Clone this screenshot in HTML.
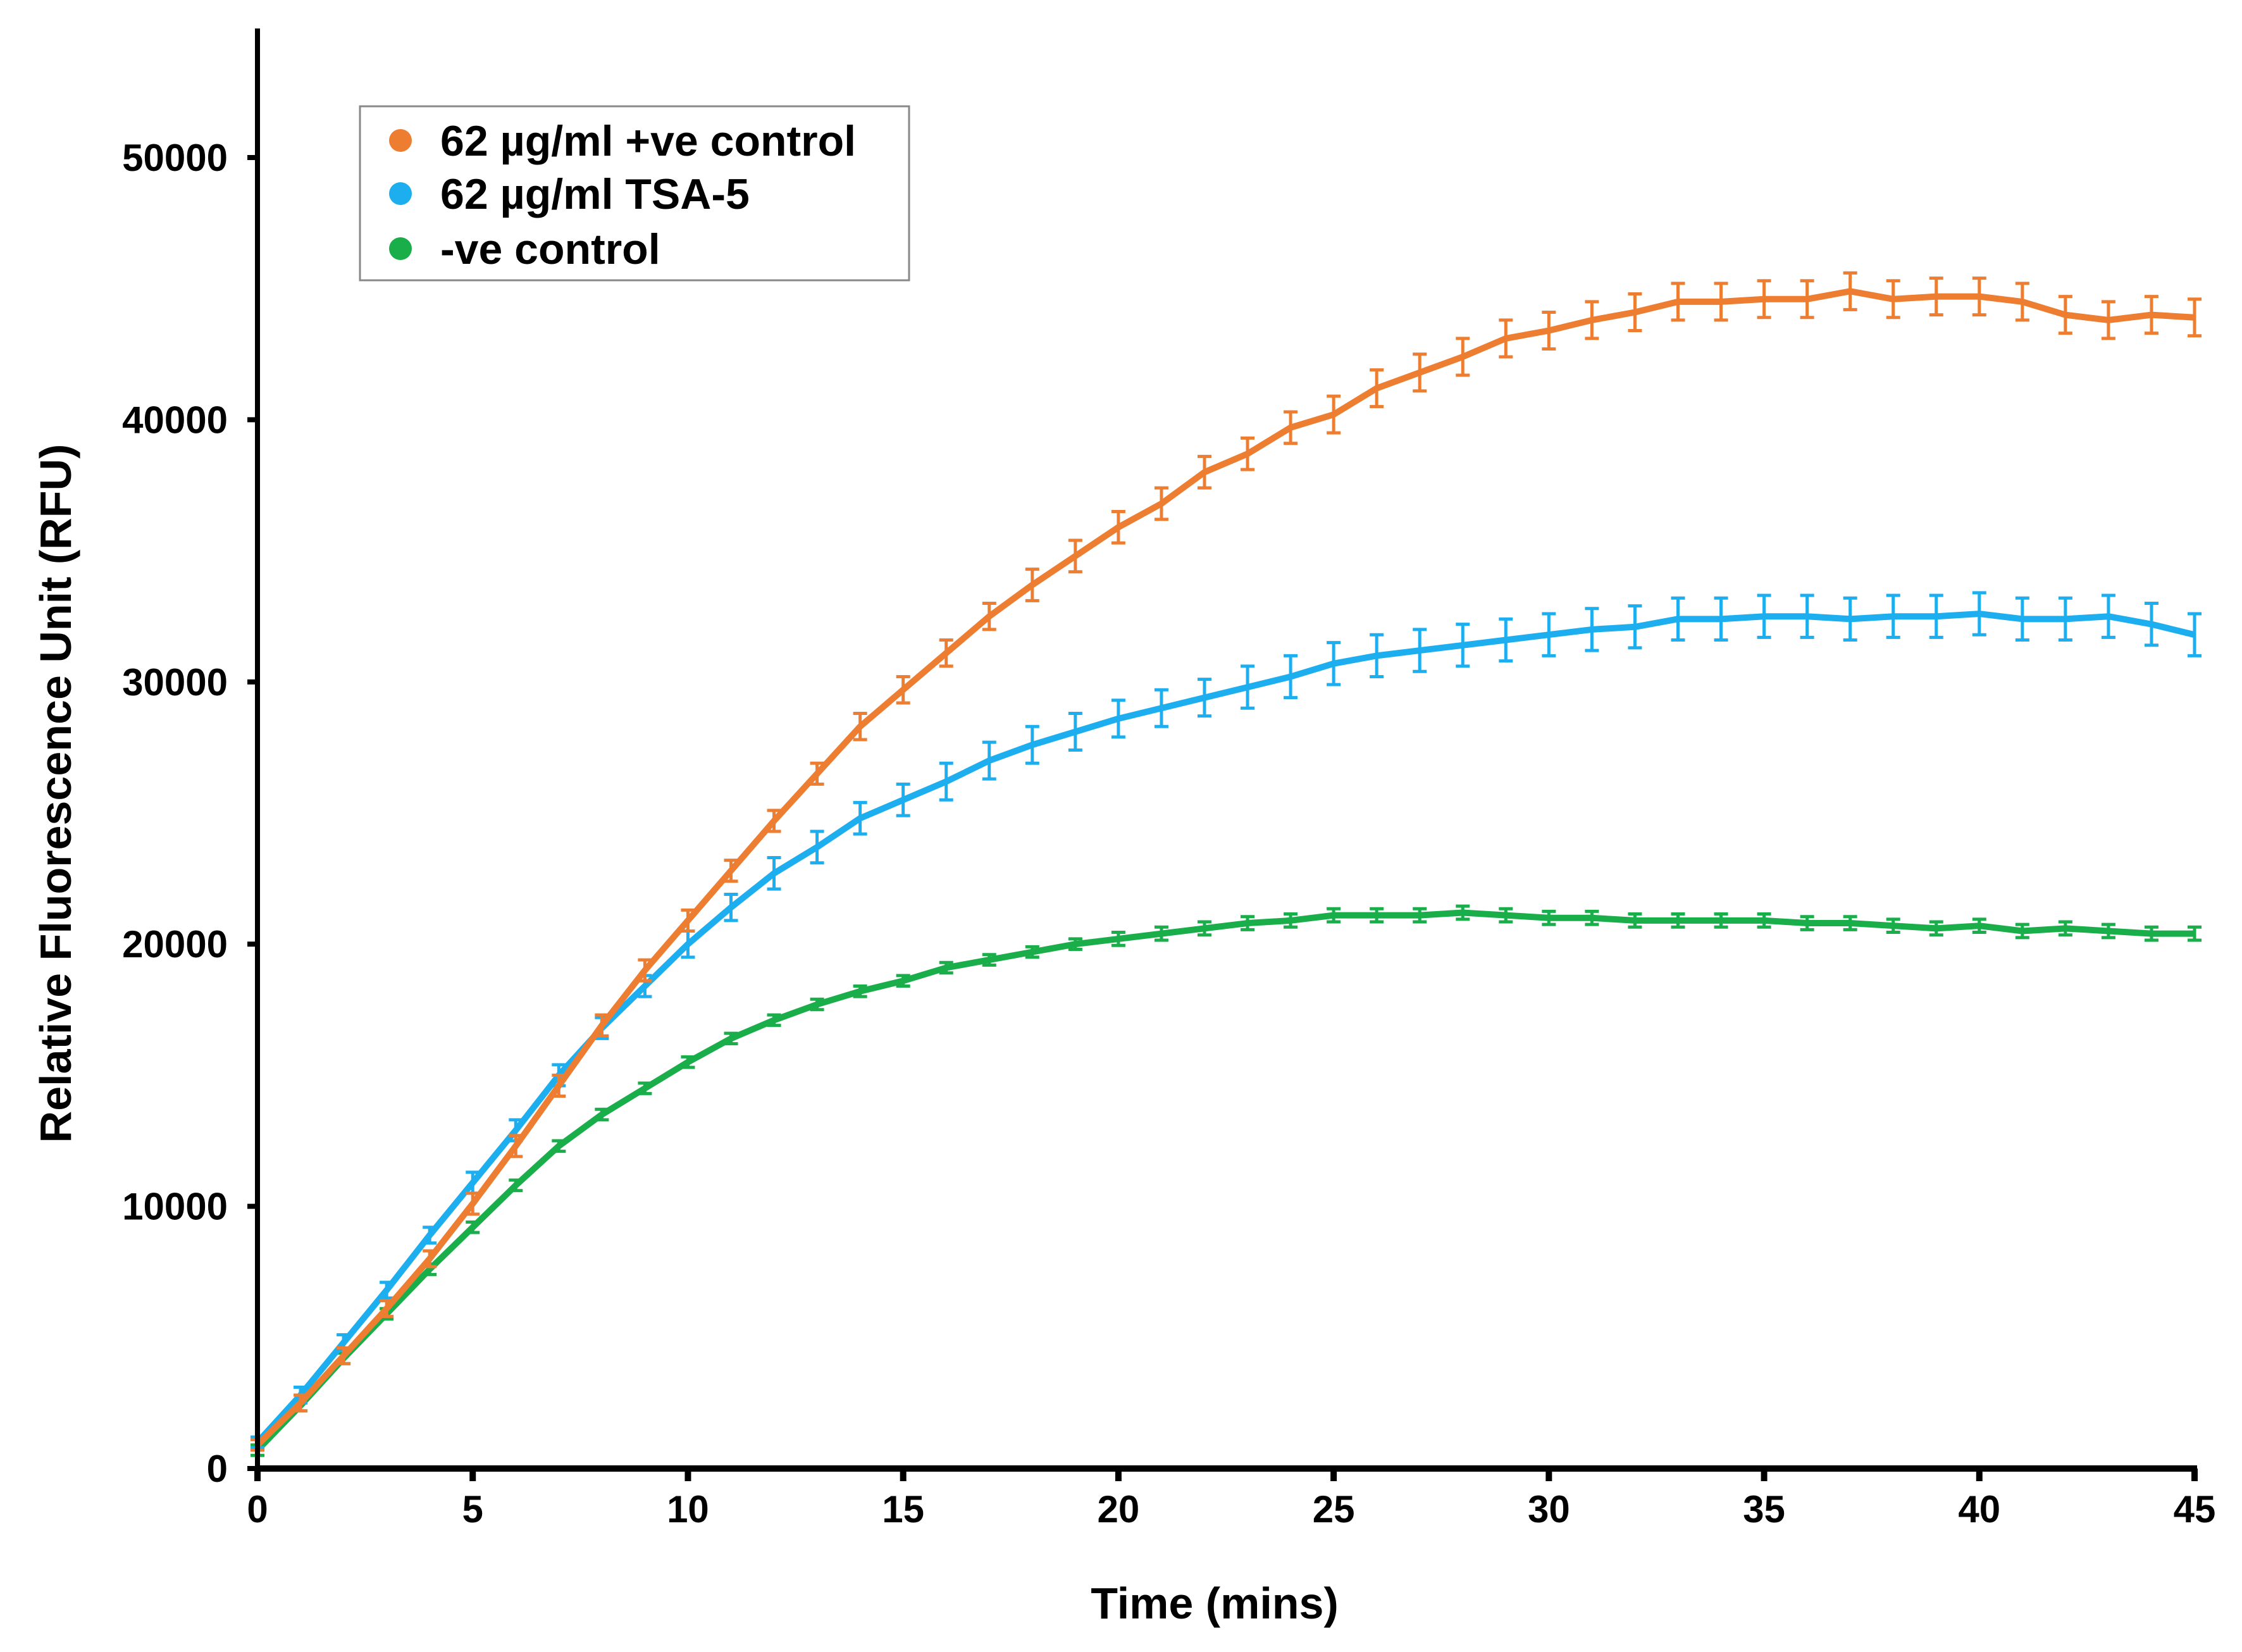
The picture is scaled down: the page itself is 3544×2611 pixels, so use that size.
<!DOCTYPE html>
<html><head><meta charset="utf-8"><style>
html,body{margin:0;padding:0;background:#fff;}
svg{display:block;font-family:"Liberation Sans",Arial,sans-serif;font-weight:bold;}
</style></head><body>
<svg id="chart" width="3544" height="2611" viewBox="0 0 3544 2611" xmlns="http://www.w3.org/2000/svg">
<g id="plot"></g>
<g id="axes"></g>
<text x="1920" y="2558" font-size="70" text-anchor="middle">Time (mins)</text>
<text transform="translate(112,1254) rotate(-90)" font-size="70" text-anchor="middle">Relative Fluorescence Unit (RFU)</text>
<g>
<rect x="569" y="168" width="868" height="275" fill="#fff" stroke="#888" stroke-width="3"/>
<g>
<ellipse cx="633" cy="222" rx="18" ry="18" fill="#ED7D31"/>
<text x="696" y="246" font-size="68">62 µg/ml +ve control</text></g>
<g>
<ellipse cx="633" cy="306" rx="18" ry="18" fill="#1DAEEF"/>
<text x="696" y="330" font-size="68">62 µg/ml TSA-5</text></g>
<g>
<ellipse cx="633" cy="393" rx="18" ry="18" fill="#1AAE4B"/>
<text x="696" y="417" font-size="68">-ve control</text></g>
</g>
</svg>
<script>
const times = Array.from({length:46},(_, i)=>i);
const posControl = [0.9,2.5,4.3,6.1,8.0,10.1,12.3,14.6,16.9,19.0,20.9,22.8,24.7,26.5,28.3,29.7,31.1,32.5,33.7,34.8,35.9,36.8,38.0,38.7,39.7,40.2,41.2,41.8,42.4,43.1,43.4,43.8,44.1,44.5,44.5,44.6,44.6,44.9,44.6,44.7,44.7,44.5,44.0,43.8,44.0,43.9];
const tsa5 = [1.0,2.8,4.8,6.8,8.9,10.9,12.9,15.0,16.8,18.4,20.0,21.4,22.7,23.7,24.8,25.5,26.2,27.0,27.6,28.1,28.6,29.0,29.4,29.8,30.2,30.7,31.0,31.2,31.4,31.6,31.8,32.0,32.1,32.4,32.4,32.5,32.5,32.4,32.5,32.5,32.6,32.4,32.4,32.5,32.2,31.8];
const negControl = [0.7,2.4,4.2,5.9,7.6,9.2,10.8,12.3,13.5,14.5,15.5,16.4,17.1,17.7,18.2,18.6,19.1,19.4,19.7,20.0,20.2,20.4,20.6,20.8,20.9,21.1,21.1,21.1,21.2,21.1,21.0,21.0,20.9,20.9,20.9,20.9,20.8,20.8,20.7,20.6,20.7,20.5,20.6,20.5,20.4,20.4];
const posErr = [0.2,0.3,0.3,0.3,0.3,0.4,0.4,0.4,0.4,0.4,0.4,0.4,0.4,0.4,0.5,0.5,0.5,0.5,0.6,0.6,0.6,0.6,0.6,0.6,0.6,0.7,0.7,0.7,0.7,0.7,0.7,0.7,0.7,0.7,0.7,0.7,0.7,0.7,0.7,0.7,0.7,0.7,0.7,0.7,0.7,0.7];
const tsaErr = [0.2,0.3,0.3,0.3,0.3,0.4,0.4,0.4,0.4,0.4,0.5,0.5,0.6,0.6,0.6,0.6,0.7,0.7,0.7,0.7,0.7,0.7,0.7,0.8,0.8,0.8,0.8,0.8,0.8,0.8,0.8,0.8,0.8,0.8,0.8,0.8,0.8,0.8,0.8,0.8,0.8,0.8,0.8,0.8,0.8,0.8];
const negErr = [0.2,0.2,0.2,0.2,0.2,0.2,0.2,0.2,0.2,0.2,0.2,0.2,0.2,0.2,0.2,0.2,0.2,0.2,0.2,0.2,0.25,0.25,0.25,0.25,0.25,0.25,0.25,0.25,0.25,0.25,0.25,0.25,0.25,0.25,0.25,0.25,0.25,0.25,0.25,0.25,0.25,0.25,0.25,0.25,0.25,0.25];
const xTicks = [0,5,10,15,20,25,30,35,40,45];
const yTicks = [0,10000,20000,30000,40000,50000];

const NS='http://www.w3.org/2000/svg';
const X0=407, X1=3469, Y0=2321, Y50=249;
const xs = t => X0 + t*(X1-X0)/45;
const ys = v => Y0 - v*(Y0-Y50)/50000;
function mk(tag, attrs, parent){const e=document.createElementNS(NS,tag);for(const k in attrs)e.setAttribute(k,attrs[k]);parent.appendChild(e);return e;}
const plot=document.getElementById('plot'), axes=document.getElementById('axes');

const series=[
 {name:'positive-control', vals:posControl, err:posErr, color:'#ED7D31'},
 {name:'tsa-5', vals:tsa5, err:tsaErr, color:'#1DAEEF'},
 {name:'negative-control', vals:negControl, err:negErr, color:'#1AAE4B'}
];
series.slice().reverse().forEach(s=>{
  const g=mk('g',{},plot);
  
  
  let d='';
  times.forEach((t,i)=>{
    const x=xs(t), lo=ys((s.vals[i]-s.err[i])*1000), hi=ys((s.vals[i]+s.err[i])*1000);
    const eb=mk('path',{d:`M${x},${lo}V${hi}M${x-11},${lo}H${x+11}M${x-11},${hi}H${x+11}`,stroke:s.color,'stroke-width':5,fill:'none'},g);
    
    
    d+=(i?'L':'M')+x+','+ys(s.vals[i]*1000);
  });
  const ln=mk('path',{d:d,stroke:s.color,'stroke-width':10,fill:'none','stroke-linejoin':'round'},g);
  
  
});

const ya=mk('line',{x1:X0,y1:45,x2:X0,y2:Y0+5,stroke:'#000','stroke-width':8},axes);


const xa=mk('line',{x1:X0-4,y1:Y0,x2:X1+4,y2:Y0,stroke:'#000','stroke-width':10},axes);


xTicks.forEach(t=>{
  mk('line',{x1:xs(t),y1:Y0,x2:xs(t),y2:Y0+20,stroke:'#000','stroke-width':10},axes);
  const tx=mk('text',{x:xs(t),y:2406,'font-size':60,'text-anchor':'middle'},axes);
  tx.textContent=t;
  
  
});
yTicks.forEach(v=>{
  mk('line',{x1:X0-16,y1:ys(v),x2:X0,y2:ys(v),stroke:'#000','stroke-width':8},axes);
  const tx=mk('text',{x:360,y:ys(v)+21,'font-size':60,'text-anchor':'end'},axes);
  tx.textContent=v;
  
  
});
</script>
</body></html>
